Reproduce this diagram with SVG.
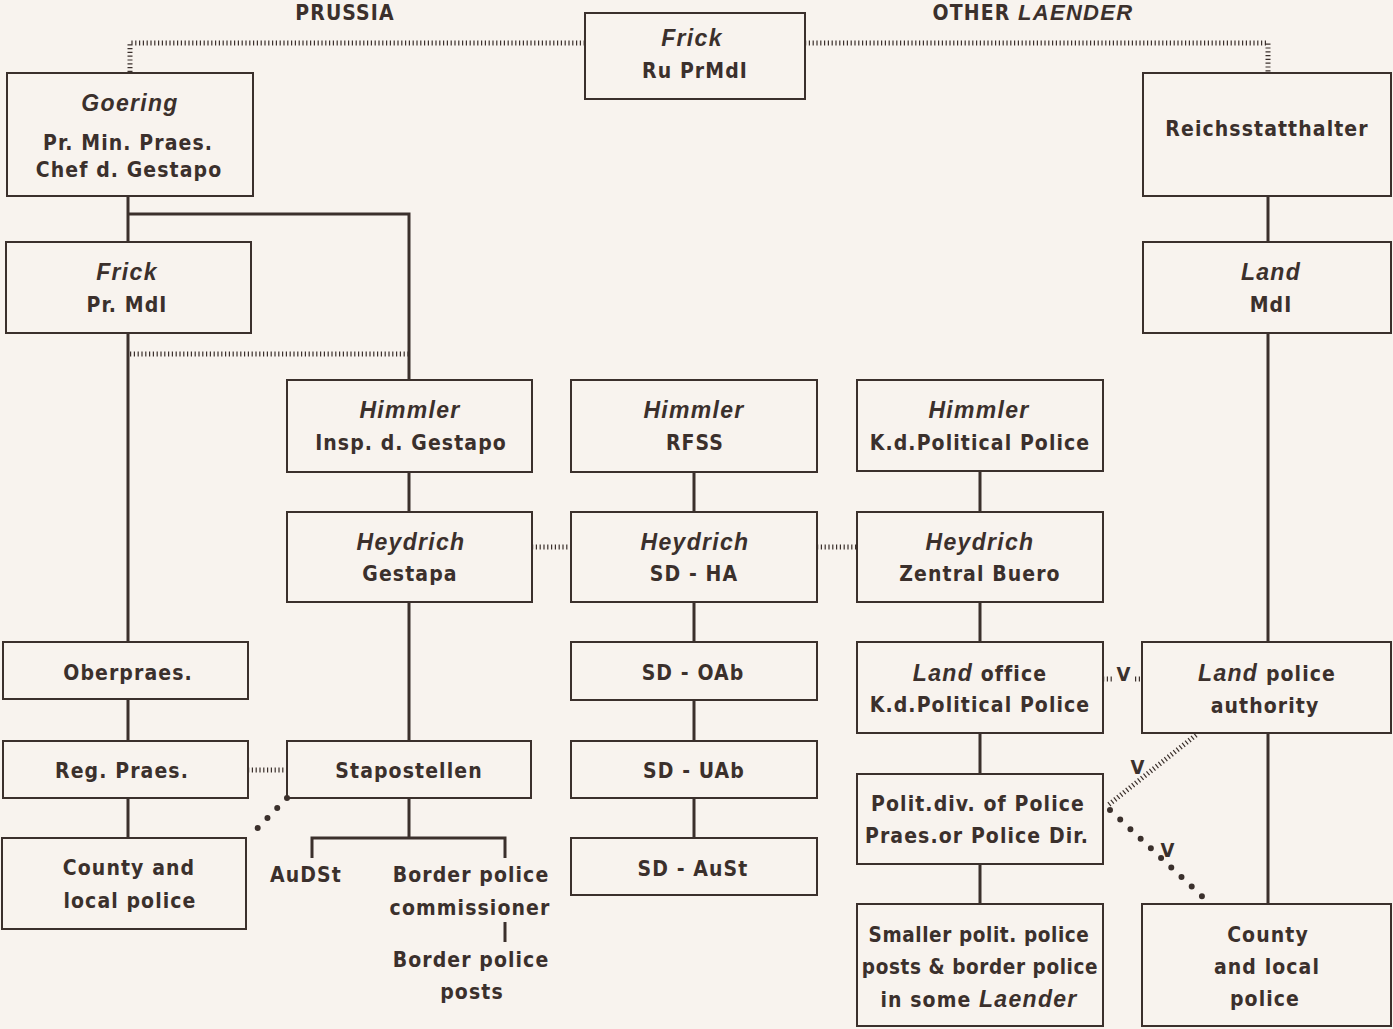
<svg xmlns="http://www.w3.org/2000/svg" width="1393" height="1029" viewBox="0 0 1393 1029">
<style>
.bg{fill:#f8f3ee}
.box{fill:none;stroke:#3b302c;stroke-width:2}
.ln{fill:none;stroke:#3b302c;stroke-width:3}
.dt{fill:none;stroke:#3b302c;stroke-width:5;stroke-dasharray:1.2 2.6}
.bd{fill:none;stroke:#3b302c;stroke-width:6;stroke-linecap:round;stroke-dasharray:0 14}
text{font-family:"DejaVu Sans Condensed","Liberation Sans Narrow","Liberation Sans",sans-serif;font-weight:bold;font-size:21px;fill:#3b302c;text-anchor:middle;letter-spacing:1.1px}
.i{font-style:italic;font-weight:bold;font-family:"Liberation Sans","DejaVu Sans",sans-serif;font-size:23px;letter-spacing:1.3px}
.tight{letter-spacing:0.6px;font-size:20.5px}
</style>
<rect class="bg" x="0" y="0" width="1393" height="1029"/>
<g id="connectors">
<path class="dt" d="M130,72 V43 H585 M805,43 H1268 V72"/>
<path class="ln" d="M128,196 V242 M128,214 H409 V380 M128,333 V642 M128,699 V741 M128,798 V838"/>
<path class="dt" d="M130,354 H409"/>
<path class="ln" d="M1268,196 V242 M1268,333 V642 M1268,733 V904"/>
<path class="ln" d="M409,472 V512 M409,602 V741 M409,798 V838 M312,858 V838 H505 V858 M505,922 V942"/>
<path class="ln" d="M694,472 V512 M694,602 V642 M694,700 V741 M694,798 V838"/>
<path class="ln" d="M980,471 V512 M980,602 V642 M980,733 V774 M980,864 V904"/>
<path class="dt" d="M532,547 H571 M817,547 H857 M248,770 H287 M1103,679 H1112 M1135,679 H1142"/>
<path class="bd" d="M287,798 L248,838"/>
<path class="dt" d="M1196,735 L1107,806"/>
<path class="bd" d="M1110,810 L1206,900"/>
<text x="1124" y="681" style="font-size:20px">V</text>
<text x="1138" y="774" style="font-size:20px">V</text>
<text x="1168" y="857" style="font-size:20px">V</text>
</g>
<g id="titles">
<text x="345" y="20">PRUSSIA</text>
<text x="1033" y="20">OTHER <tspan class="i" style="font-size:22px">LAENDER</tspan></text>
</g>
<g id="frick-reich"><rect class="box" x="585" y="13" width="220" height="86"/><text class="i" x="692" y="46">Frick</text><text x="695" y="78">Ru PrMdI</text></g>
<g id="goering"><rect class="box" x="7" y="73" width="246" height="123"/><text class="i" x="130" y="111">Goering</text><text x="128" y="150">Pr. Min. Praes.</text><text x="129" y="177">Chef d. Gestapo</text></g>
<g id="reichsstatthalter"><rect class="box" x="1143" y="73" width="248" height="123"/><text x="1267" y="136">Reichsstatthalter</text></g>
<g id="frick-pr"><rect class="box" x="6" y="242" width="245" height="91"/><text class="i" x="127" y="280">Frick</text><text x="127" y="312">Pr. MdI</text></g>
<g id="land-mdi"><rect class="box" x="1143" y="242" width="248" height="91"/><text class="i" x="1271" y="280">Land</text><text x="1271" y="312">MdI</text></g>
<g id="himmler-insp"><rect class="box" x="287" y="380" width="245" height="92"/><text class="i" x="410" y="418">Himmler</text><text x="411" y="450">Insp. d. Gestapo</text></g>
<g id="himmler-rfss"><rect class="box" x="571" y="380" width="246" height="92"/><text class="i" x="694" y="418">Himmler</text><text x="695" y="450">RFSS</text></g>
<g id="himmler-kd"><rect class="box" x="857" y="380" width="246" height="91"/><text class="i" x="979" y="418">Himmler</text><text x="980" y="450">K.d.Political Police</text></g>
<g id="heydrich-gestapa"><rect class="box" x="287" y="512" width="245" height="90"/><text class="i" x="411" y="550">Heydrich</text><text x="410" y="581">Gestapa</text></g>
<g id="heydrich-sdha"><rect class="box" x="571" y="512" width="246" height="90"/><text class="i" x="695" y="550">Heydrich</text><text x="694" y="581">SD - HA</text></g>
<g id="heydrich-zentral"><rect class="box" x="857" y="512" width="246" height="90"/><text class="i" x="980" y="550">Heydrich</text><text x="980" y="581">Zentral Buero</text></g>
<g id="oberpraes"><rect class="box" x="3" y="642" width="245" height="57"/><text x="128" y="680">Oberpraes.</text></g>
<g id="sd-oab"><rect class="box" x="571" y="642" width="246" height="58"/><text x="693" y="680">SD - OAb</text></g>
<g id="land-office"><rect class="box" x="857" y="642" width="246" height="91"/><text x="980" y="681"><tspan class="i">Land</tspan>  office</text><text x="980" y="712">K.d.Political Police</text></g>
<g id="land-police"><rect class="box" x="1142" y="642" width="249" height="91"/><text x="1267" y="681"><tspan class="i">Land</tspan>  police</text><text x="1265" y="713">authority</text></g>
<g id="reg-praes"><rect class="box" x="3" y="741" width="245" height="57"/><text x="122" y="778">Reg. Praes.</text></g>
<g id="stapostellen"><rect class="box" x="287" y="741" width="244" height="57"/><text x="409" y="778">Stapostellen</text></g>
<g id="sd-uab"><rect class="box" x="571" y="741" width="246" height="57"/><text x="694" y="778">SD - UAb</text></g>
<g id="polit-div"><rect class="box" x="857" y="774" width="246" height="90"/><text x="978" y="811">Polit.div. of Police</text><text x="977" y="843">Praes.or Police Dir.</text></g>
<g id="county-left"><rect class="box" x="2" y="838" width="244" height="91"/><text x="129" y="875">County and</text><text x="130" y="908">local police</text></g>
<g id="sd-aust"><rect class="box" x="571" y="838" width="246" height="57"/><text x="693" y="876">SD - AuSt</text></g>
<g id="audst"><text x="306" y="882">AuDSt</text></g>
<g id="border-commissioner"><text x="471" y="882">Border police</text><text x="470" y="915">commissioner</text></g>
<g id="border-posts"><text x="471" y="967">Border police</text><text x="472" y="999">posts</text></g>
<g id="smaller-posts"><rect class="box" x="857" y="904" width="246" height="122"/><text class="tight" x="979" y="942">Smaller polit. police</text><text class="tight" x="980" y="974">posts &amp; border police</text><text x="979" y="1007">in some <tspan class="i">Laender</tspan></text></g>
<g id="county-right"><rect class="box" x="1142" y="904" width="249" height="122"/><text x="1268" y="942">County</text><text x="1267" y="974">and local</text><text x="1265" y="1006">police</text></g>
</svg>
